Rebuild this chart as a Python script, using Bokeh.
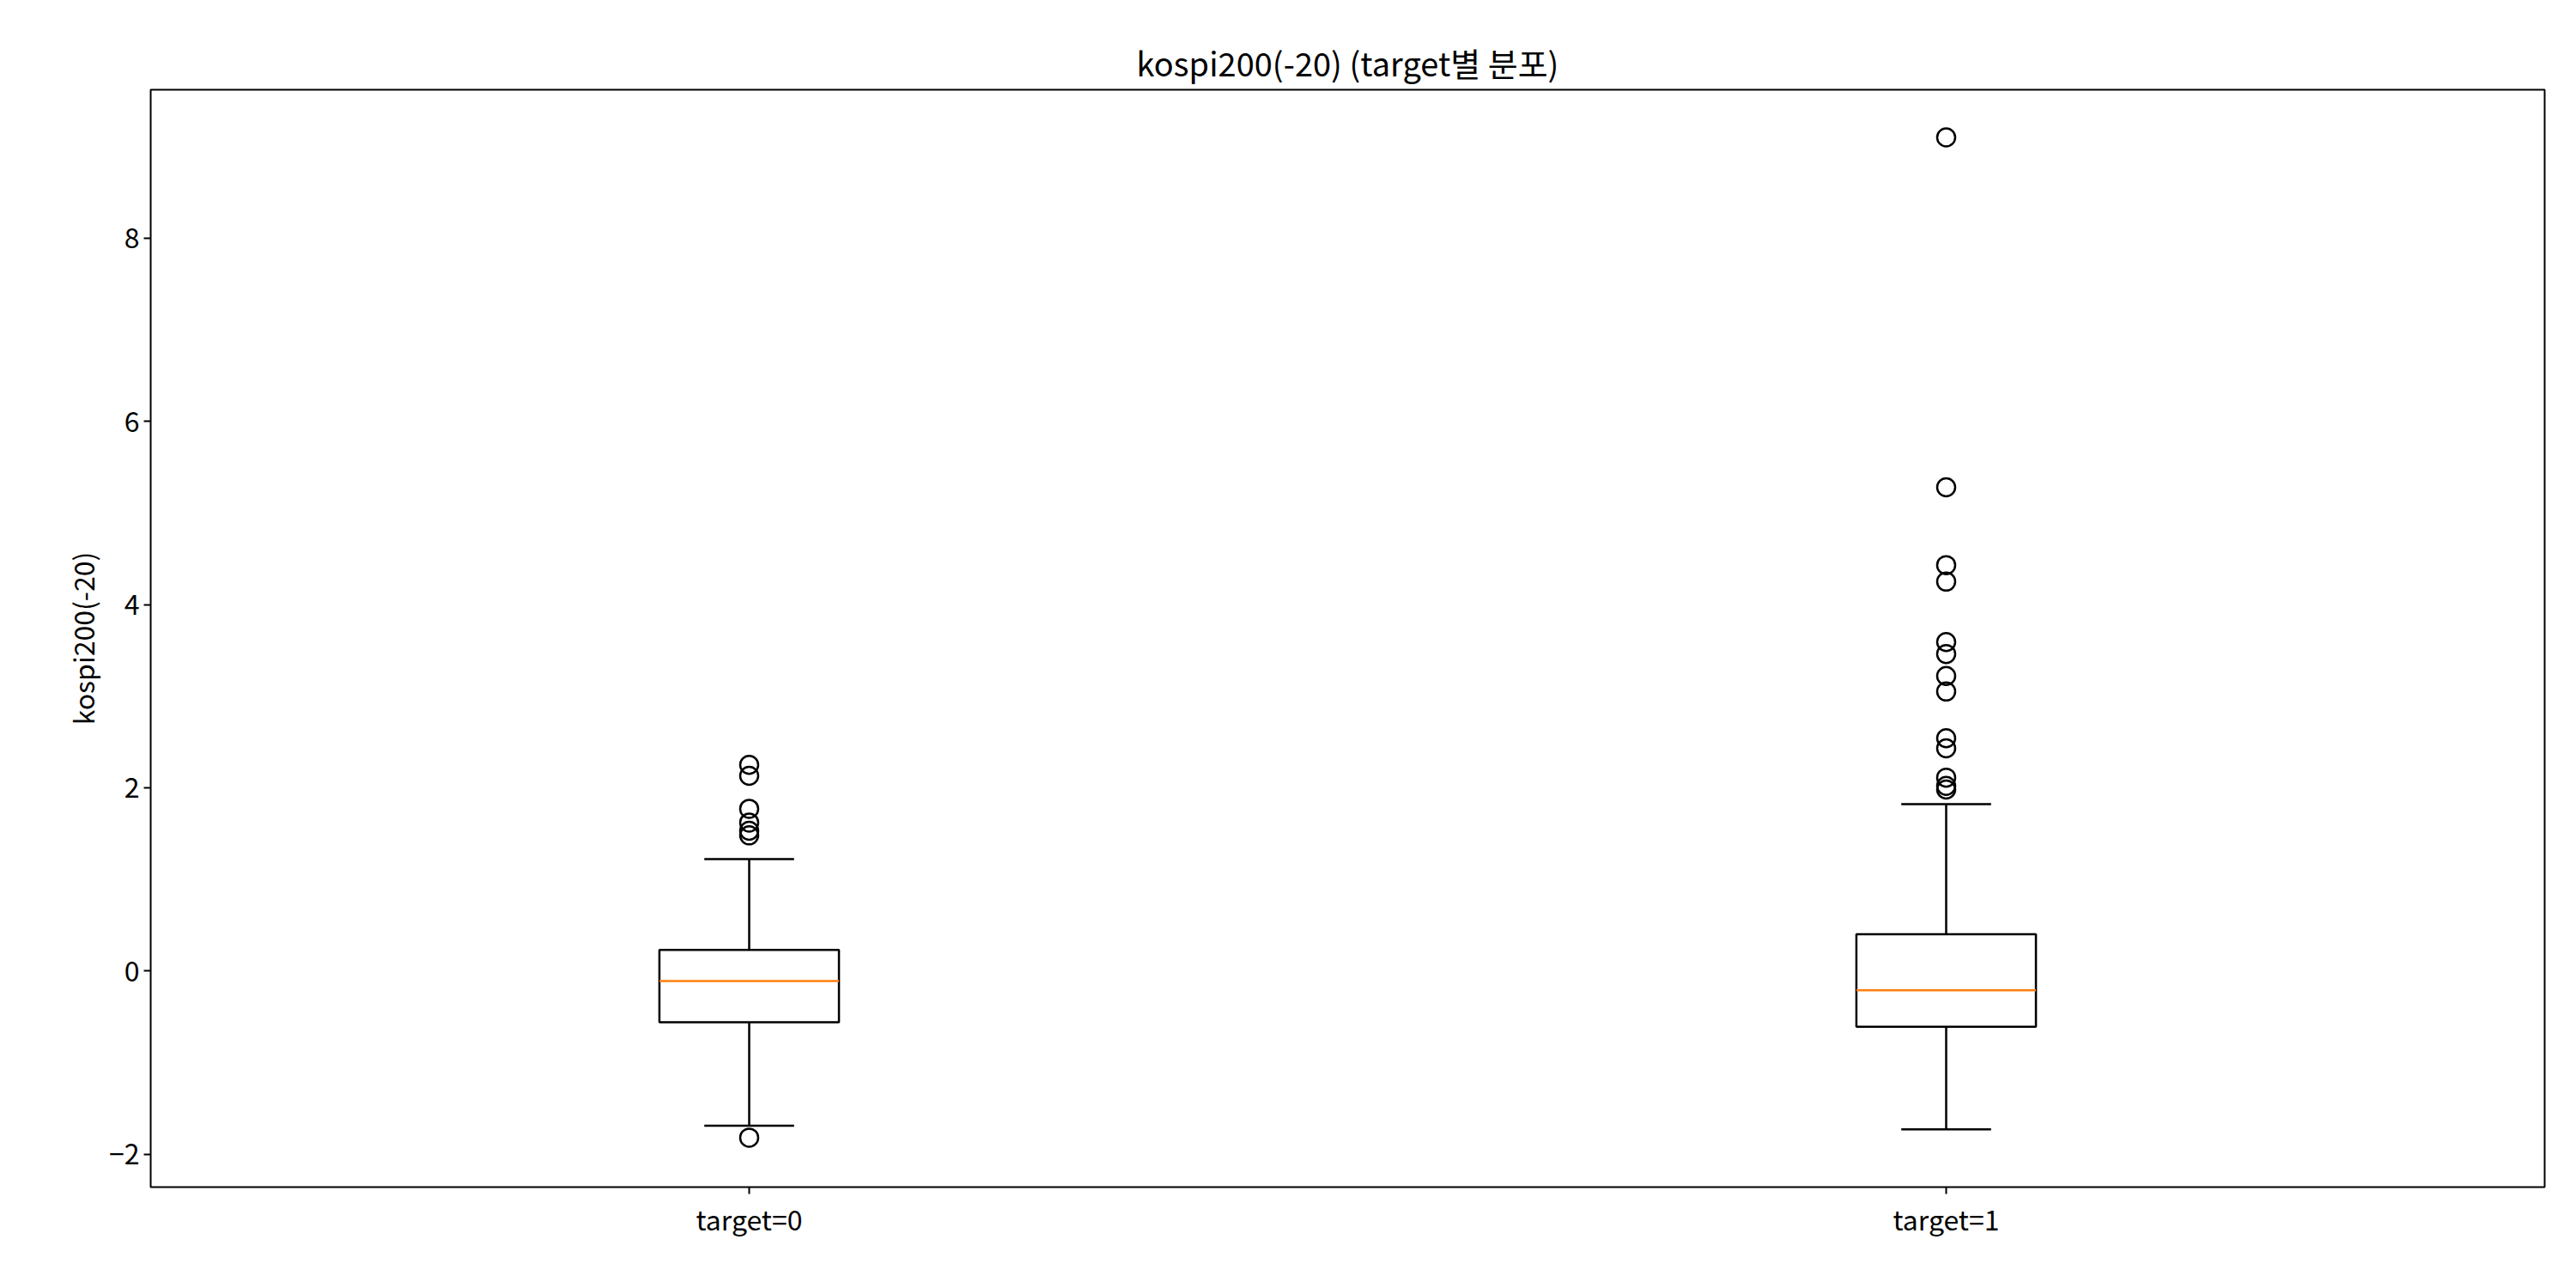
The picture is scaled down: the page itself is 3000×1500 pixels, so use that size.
from bokeh.plotting import figure
from bokeh.models import FixedTicker, Range1d
from bokeh.embed import file_html
from bokeh.resources import INLINE

positions = [1, 2]
labels = ["target=0", "target=1"]
q1 = [-0.56, -0.61]
med = [-0.11, -0.21]
q3 = [0.23, 0.40]
lo_whisk = [-1.69, -1.73]
hi_whisk = [1.22, 1.82]
out0 = [2.25, 2.13, 1.77, 1.62, 1.53, 1.48, -1.82]
out1 = [9.10, 5.28, 4.43, 4.25, 3.59, 3.46, 3.22, 3.05, 2.54, 2.43, 2.11, 2.02, 1.98]

FONT = "Noto Sans CJK KR"
p = figure(frame_width=2788, frame_height=1278, min_border_left=175, min_border_right=21,
           min_border_top=104, min_border_bottom=102,
           x_range=Range1d(0.5, 2.5), y_range=Range1d(-2.36, 9.62),
           output_backend="svg", toolbar_location=None,
           title="kospi200(-20) (target별 분포)")
p.title.align = "center"
p.title.text_font = FONT
p.title.text_font_size = "38px"
p.title.text_font_style = "normal"
p.title.text_color = "black"
p.grid.visible = False
p.outline_line_color = "black"
p.outline_line_width = 2

p.xaxis.ticker = FixedTicker(ticks=positions)
p.xaxis.major_label_overrides = {1: labels[0], 2: labels[1]}
p.yaxis.ticker = FixedTicker(ticks=[-2, 0, 2, 4, 6, 8])
p.yaxis.axis_label = "kospi200(-20)"
for ax in (p.xaxis, p.yaxis):
    ax.major_label_text_font = FONT
    ax.major_label_text_font_size = "32px"
    ax.major_label_text_color = "black"
    ax.axis_label_text_font = FONT
    ax.axis_label_text_font_size = "32px"
    ax.axis_label_text_font_style = "normal"
    ax.axis_label_text_color = "black"
    ax.minor_tick_line_color = None
    ax.major_tick_in = 0
    ax.major_tick_out = 8
    ax.major_tick_line_width = 2
    ax.axis_line_color = None

bw = 0.15
cw = 0.075
p.quad(left=[x - bw / 2 for x in positions], right=[x + bw / 2 for x in positions],
       bottom=q1, top=q3, fill_color=None, line_color="black", line_width=2.5)
p.segment(x0=[x - bw / 2 for x in positions], x1=[x + bw / 2 for x in positions],
          y0=med, y1=med, line_color="#ff7f0e", line_width=2.5)
p.segment(x0=positions, x1=positions, y0=q3, y1=hi_whisk, line_color="black", line_width=2.5)
p.segment(x0=positions, x1=positions, y0=q1, y1=lo_whisk, line_color="black", line_width=2.5)
p.segment(x0=[x - cw / 2 for x in positions], x1=[x + cw / 2 for x in positions],
          y0=hi_whisk, y1=hi_whisk, line_color="black", line_width=2.5)
p.segment(x0=[x - cw / 2 for x in positions], x1=[x + cw / 2 for x in positions],
          y0=lo_whisk, y1=lo_whisk, line_color="black", line_width=2.5)
p.scatter([1] * len(out0), out0, size=21, fill_color=None, line_color="black", line_width=2.5)
p.scatter([2] * len(out1), out1, size=21, fill_color=None, line_color="black", line_width=2.5)

open("out.html", "w").write(file_html(p, INLINE))
